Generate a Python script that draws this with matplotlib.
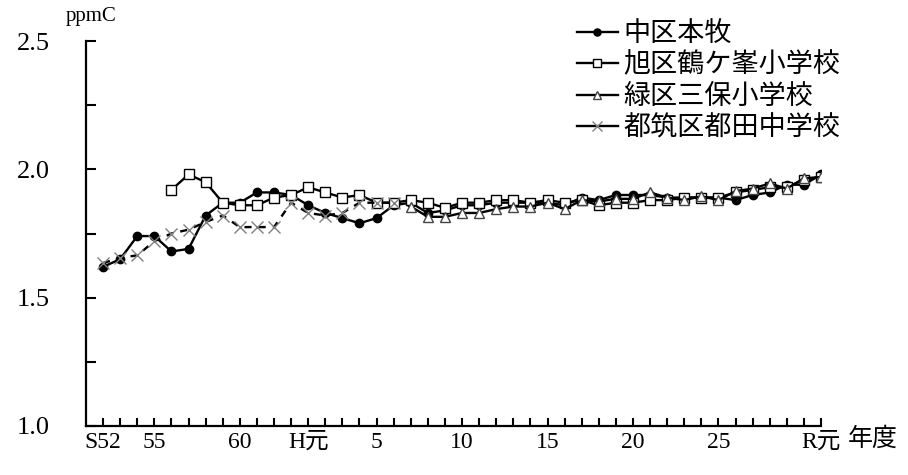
import numpy as np
import matplotlib
matplotlib.use('Agg')
import matplotlib.pyplot as plt

plt.rcParams['font.family'] = ['Liberation Serif', 'Noto Sans CJK JP']

# fiscal years S52 (1977) .. R元 (2019)
years = np.arange(1977, 2020)

# 中区本牧 (1977-2019)
honmoku = [1.62, 1.65, 1.74, 1.74, 1.68, 1.69, 1.82, 1.87, 1.87, 1.91,
           1.91, 1.90, 1.86, 1.83, 1.81, 1.79, 1.81, 1.86, 1.87, 1.83,
           1.84, 1.86, 1.86, 1.87, 1.87, 1.87, 1.87, 1.86, 1.89, 1.88,
           1.90, 1.90, 1.90, 1.89, 1.89, 1.89, 1.89, 1.88, 1.90, 1.91,
           1.94, 1.94, 1.98]

# 旭区鶴ケ峯小学校 (1981-2019)
asahi_start = 1981
asahi = [1.92, 1.98, 1.95, 1.87, 1.86, 1.86, 1.89, 1.90, 1.93, 1.91,
         1.89, 1.90, 1.87, 1.87, 1.88, 1.87, 1.85, 1.87, 1.87, 1.88,
         1.88, 1.87, 1.88, 1.87, 1.88, 1.86, 1.87, 1.87, 1.88, 1.88,
         1.89, 1.89, 1.89, 1.91, 1.92, 1.93, 1.93, 1.96, 1.97]

# 緑区三保小学校 (1995-2019)
midori_start = 1995
midori = [1.855, 1.815, 1.815, 1.83, 1.83, 1.845, 1.855, 1.855, 1.87, 1.845,
          1.88, 1.875, 1.885, 1.885, 1.91, 1.89, 1.88, 1.895, 1.88, 1.915,
          1.925, 1.945, 1.925, 1.965, 1.97]

# 都筑区都田中学校 (1977-1994)
tsuzuki_start = 1977
tsuzuki = [1.635, 1.655, 1.665, 1.72, 1.75, 1.765, 1.795, 1.82, 1.775, 1.775,
           1.775, 1.87, 1.83, 1.82, 1.83, 1.87, 1.87, 1.87]

tick_labels = {1977: 'S52', 1980: '55', 1985: '60', 1989: 'H元', 1993: '5',
               1998: '10', 2003: '15', 2008: '20', 2013: '25', 2019: 'R元'}


def yrs(start, vals):
    return np.arange(start, start + len(vals))


fig = plt.figure(figsize=(9.08, 4.75), dpi=100)
ax = fig.add_axes([86/908, 1-426/475, (821-86)/908, (426-41)/475])

ax.plot(years, honmoku, color='black', lw=1.7, marker='o', ms=6,
        mfc='black', mec='black', label='中区本牧', zorder=2)
ax.plot(yrs(asahi_start, asahi), asahi, color='black', lw=1.7, marker='s',
        ms=6.5, mfc='white', mec='black', mew=1.0, label='旭区鶴ケ峯小学校', zorder=3)
ax.plot(yrs(midori_start, midori), midori, color='black', lw=1.7, marker='^',
        ms=7.5, mfc='white', mec='#444444', mew=1.0, label='緑区三保小学校', zorder=4)
ax.plot(yrs(tsuzuki_start, tsuzuki), tsuzuki, color='black', lw=1.7,
        ls=(0, (3, 3)), marker='x', ms=9, mec='#808080', mew=1.0,
        label='都筑区都田中学校', zorder=5)

ax.set_xlim(1976, 2019)
ax.set_ylim(1.0, 2.5)

ax.set_xticks(years)
ax.set_xticklabels([tick_labels.get(y, '') for y in years])
ax.set_yticks([1.0, 1.5, 2.0, 2.5])
ax.set_yticklabels(['%.1f' % v for v in [1.0, 1.5, 2.0, 2.5]])
ax.set_yticks([1.25, 1.75, 2.25], minor=True)

ax.tick_params(axis='y', which='both', direction='in', length=7, width=1.5,
               pad=26, labelsize=19)
ax.tick_params(axis='x', direction='in', length=6, width=1.5, pad=4,
               labelsize=17)

for s in ['top', 'right']:
    ax.spines[s].set_visible(False)
for s in ['left', 'bottom']:
    ax.spines[s].set_linewidth(1.6)

fig.text(66/908, 1-17/475, 'ppmC', fontsize=15, va='center', ha='left')
fig.text(848/908, 1-439/475, '年度', fontsize=18, va='center', ha='left')

leg = ax.legend(loc='upper left', bbox_to_anchor=(577/908, 1-20/475),
                bbox_transform=fig.transFigure, frameon=False,
                handlelength=1.5, handletextpad=0.2, labelspacing=0.17,
                borderpad=0, borderaxespad=0, markerscale=0.85,
                prop={'family': ['Noto Sans CJK JP'], 'size': 19.5})
leg.get_lines()[3].set_linestyle('-')

fig.savefig('out.png', dpi=100)
